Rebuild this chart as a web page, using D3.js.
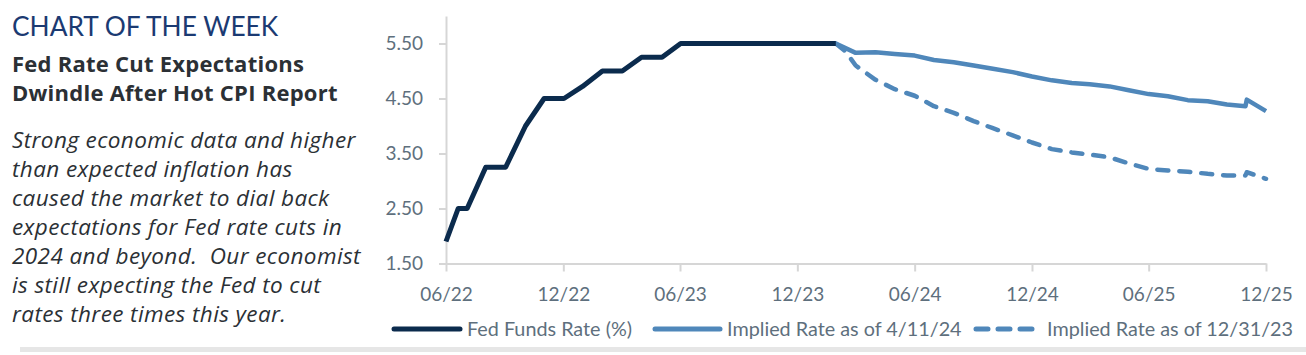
<!DOCTYPE html>
<html>
<head>
<meta charset="utf-8">
<script src="https://cdn.jsdelivr.net/npm/d3@7"></script>
<style>
  html, body { margin: 0; padding: 0; background: #ffffff; }
  svg { display: block; }
</style>
</head>
<body>
<svg id="chart" width="1306" height="355"></svg>
<script>
// ---------------- DATA ----------------
const headerText = "CHART OF THE WEEK";
const titleLines = ["Fed Rate Cut Expectations", "Dwindle After Hot CPI Report"];
const bodyLines = [
  "Strong economic data and higher",
  "than expected inflation has",
  "caused the market to dial back",
  "expectations for Fed rate cuts in",
  "2024 and beyond.  Our economist",
  "is still expecting the Fed to cut",
  "rates three times this year."
];

const seriesNames = ["Fed Funds Rate (%)", "Implied Rate as of 4/11/24", "Implied Rate as of 12/31/23"];

const fedDates = ["2022-06-01","2022-06-20","2022-07-04","2022-08-02","2022-09-02","2022-10-03","2022-11-01",
  "2022-12-02","2022-12-31","2023-01-31","2023-03-03","2023-04-02","2023-05-04","2023-06-02","2024-01-30"];
const fedValues = [1.90, 2.50, 2.50, 3.25, 3.25, 4.00, 4.50, 4.50, 4.72, 5.00, 5.00, 5.25, 5.25, 5.50, 5.50];

const impliedDates = ["2024-01-30","2024-03-01","2024-04-01","2024-05-01","2024-06-01","2024-07-01","2024-08-01",
  "2024-09-01","2024-10-01","2024-11-01","2024-12-01","2025-01-01","2025-02-01","2025-03-01","2025-04-01",
  "2025-05-01","2025-06-01","2025-07-01","2025-08-01","2025-09-01","2025-10-01","2025-10-30","2025-11-01","2025-12-01"];
const implied0411 = [5.50, 5.33, 5.34, 5.31, 5.28, 5.20, 5.16, 5.10, 5.04, 4.98, 4.90, 4.83, 4.78, 4.76, 4.72,
  4.65, 4.58, 4.54, 4.47, 4.45, 4.39, 4.36, 4.48, 4.27];

const implied1231Dates = ["2024-01-30","2024-02-14","2024-03-01","2024-04-01","2024-05-01","2024-06-01","2024-07-01","2024-08-01",
  "2024-09-01","2024-10-01","2024-11-01","2024-12-01","2025-01-01","2025-02-01","2025-03-01","2025-04-01",
  "2025-05-01","2025-06-01","2025-07-01","2025-08-01","2025-09-01","2025-10-01","2025-10-30","2025-11-01","2025-12-01"];
const implied1231 = [5.50, 5.36, 5.10, 4.84, 4.67, 4.55, 4.36, 4.24, 4.09, 3.96, 3.83, 3.70, 3.58, 3.52, 3.48, 3.43,
  3.32, 3.22, 3.19, 3.17, 3.13, 3.10, 3.10, 3.16, 3.04];

const xTickDates = ["2022-06-01","2022-12-01","2023-06-01","2023-12-01","2024-06-01","2024-12-01","2025-06-01","2025-12-01"];
const yTickValues = [1.5, 2.5, 3.5, 4.5, 5.5];

// ---------------- STYLE ----------------
const NAVY = "#0b2b4d";
const STEEL = "#4f87ba";
const LABEL = "#5e6f7d";
const AXIS = "#d6d6d6";
const TEXT = "#2b3035";
const HEAD = "#1b3a72";
const FONT = "Lato, 'Noto Sans', sans-serif";
const FONT2 = "'Open Sans', 'Noto Sans', sans-serif";

const parse = d3.timeParse("%Y-%m-%d");
const svg = d3.select("#chart");

// ---------------- LEFT TEXT ----------------
svg.append("text").attr("x", 12).attr("y", 36)
  .attr("font-family", FONT).attr("font-size", 26.3).attr("font-weight", 400)
  .attr("fill", HEAD).text(headerText);

svg.selectAll("text.title").data(titleLines).join("text")
  .attr("class", "title")
  .attr("x", 12).attr("y", (d, i) => 72 + i * 29)
  .attr("font-family", FONT2).attr("font-size", 22).attr("font-weight", 700)
  .attr("letter-spacing", 0.25)
  .attr("fill", TEXT).text(d => d);

svg.selectAll("text.body").data(bodyLines).join("text")
  .attr("class", "body")
  .attr("x", 12).attr("y", (d, i) => 148 + i * 29)
  .attr("font-family", FONT2).attr("font-size", 22.5).attr("font-style", "italic")
  .attr("letter-spacing", 0.4)
  .attr("fill", TEXT).style("white-space", "pre").text(d => d);

// ---------------- SCALES ----------------
const x = d3.scaleTime().domain([parse("2022-06-01"), parse("2025-12-01")]).range([446, 1266]);
const y = d3.scaleLinear().domain([1.5, 6.0]).range([263.5, 16]);

// ---------------- AXES ----------------
const yAxis = svg.append("g").attr("transform", "translate(446,0)")
  .call(d3.axisLeft(y).tickValues(yTickValues).tickFormat(d3.format(".2f"))
    .tickSize(7).tickSizeOuter(0).tickPadding(16));
const xAxis = svg.append("g").attr("transform", "translate(0,263.5)")
  .call(d3.axisBottom(x).tickValues(xTickDates.map(parse)).tickFormat(d3.timeFormat("%m/%y"))
    .tickSize(8).tickSizeOuter(0).tickPadding(16));

[yAxis, xAxis].forEach(g => {
  g.select(".domain").attr("stroke", AXIS).attr("stroke-width", 2);
  g.selectAll(".tick line").attr("stroke", AXIS).attr("stroke-width", 2);
  g.selectAll(".tick text").attr("fill", LABEL).attr("font-family", FONT).attr("font-size", 19);
});

// ---------------- LINES ----------------
const line = d3.line().x(d => x(d.date)).y(d => y(d.value));
const toPts = (dates, vals) => dates.map((d, i) => ({ date: parse(d), value: vals[i] }));

svg.append("path").datum(toPts(implied1231Dates, implied1231))
  .attr("d", line).attr("fill", "none").attr("stroke", STEEL).attr("stroke-width", 4.5)
  .attr("stroke-dasharray", "11,11").attr("stroke-linecap", "round").attr("stroke-linejoin", "round");

svg.append("path").datum(toPts(impliedDates, implied0411))
  .attr("d", line).attr("fill", "none").attr("stroke", STEEL).attr("stroke-width", 4.5)
  .attr("stroke-linejoin", "round");

svg.append("path").datum(toPts(fedDates, fedValues))
  .attr("d", line).attr("fill", "none").attr("stroke", NAVY).attr("stroke-width", 5)
  .attr("stroke-linejoin", "round");

// ---------------- LEGEND ----------------
const legendItems = [
  { name: seriesNames[0], color: NAVY, dash: null, x1: 394, x2: 460, tx: 467 },
  { name: seriesNames[1], color: STEEL, dash: null, x1: 655, x2: 720, tx: 727 },
  { name: seriesNames[2], color: STEEL, dash: "12,10", x1: 976, x2: 1034, tx: 1047 }
];
const lg = svg.append("g");
lg.selectAll("line").data(legendItems).join("line")
  .attr("x1", d => d.x1).attr("x2", d => d.x2).attr("y1", 329).attr("y2", 329)
  .attr("stroke", d => d.color).attr("stroke-width", 5).attr("stroke-linecap", "round")
  .attr("stroke-dasharray", d => d.dash);
lg.selectAll("text").data(legendItems).join("text")
  .attr("x", d => d.tx).attr("y", 336)
  .attr("font-family", FONT).attr("font-size", 19.8).attr("fill", LABEL)
  .text(d => d.name);

// bottom rule
svg.append("rect").attr("x", 20).attr("y", 347).attr("width", 1286).attr("height", 5).attr("fill", "#e6e6e6");
</script>
</body>
</html>
